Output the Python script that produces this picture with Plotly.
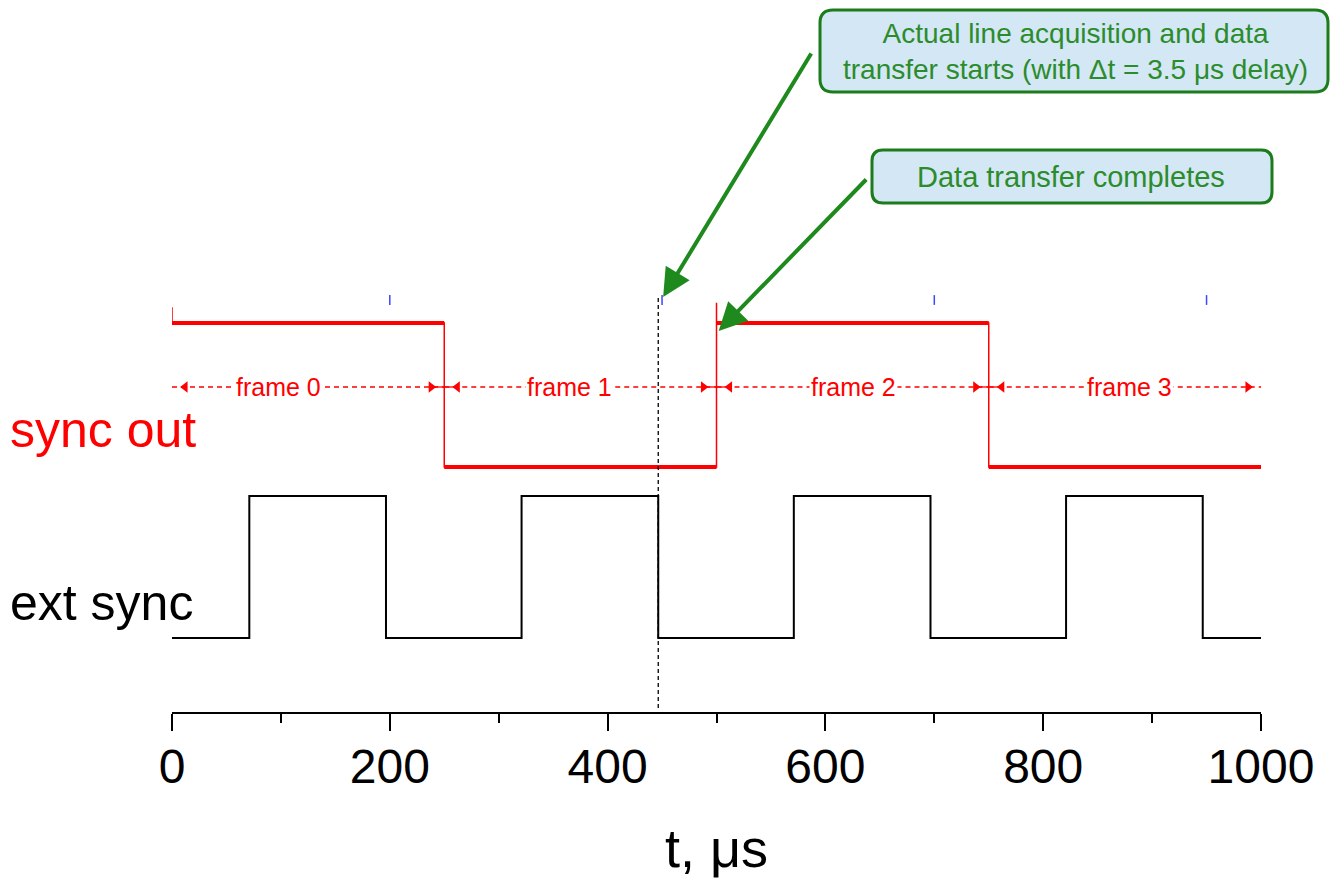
import plotly.graph_objects as go

# ---- signal data (time in microseconds, logic levels 0/1) ----
sync_out_t = [0, 0, 250, 250, 500, 500, 500, 750, 750, 1000]
sync_out_v = [1.11, 1.0, 1.0, 0.0, 0.0, 1.14, 1.0, 1.0, 0.0, 0.0]

ext_sync_t = [0, 71, 71, 196.5, 196.5, 321, 321, 446.5, 446.5,
              571, 571, 696.5, 696.5, 821, 821, 946.5, 946.5, 1000]
ext_sync_v = [0, 0, 1, 1, 0, 0, 1, 1, 0, 0, 1, 1, 0, 0, 1, 1, 0, 0]

acq_start_t = [200, 450, 700, 950]          # line acquisition start markers
trigger_t = 446.5                            # ext sync falling edge (dashed guide)
frame_edges = [0, 250, 500, 750, 1000]
frame_names = ["frame 0", "frame 1", "frame 2", "frame 3"]
frame_label_t = [98, 365, 626, 879]

tick_vals = [0, 200, 400, 600, 800, 1000]

# ---- layout geometry (pixels) ----
W, H = 1330, 879
ML, MR, MT, MB = 172, 69, 0, 167
PW, PH = W - ML - MR, H - MT - MB

SYNC_BASE, SYNC_SPAN = 245, 144
EXT_BASE, EXT_SPAN = 74, 142
FRAME_Y = 325
MARK_Y = 412

RED = "#ff0000"
GREEN_TXT = "#2c8c2c"
GREEN_LINE = "#1c7c1c"
FILL = "#d3e7f4"
FONT = "Liberation Sans, Arial, sans-serif"


def paper(px, py):
    return (px - ML) / PW, (H - MB - py) / PH


def rounded_box(x0, y0, x1, y1, r):
    a, top = paper(x0, y0)
    b, bot = paper(x1, y1)
    rx, ry = r / PW, r / PH
    return (f"M {a+rx},{top} L {b-rx},{top} Q {b},{top} {b},{top-ry} "
            f"L {b},{bot+ry} Q {b},{bot} {b-rx},{bot} L {a+rx},{bot} "
            f"Q {a},{bot} {a},{bot+ry} L {a},{top-ry} Q {a},{top} {a+rx},{top} Z")


fig = go.Figure()

# sync out: full waveform + thicker level segments (noisy plateaus)
sy = [SYNC_BASE + SYNC_SPAN * v for v in sync_out_v]
fig.add_trace(go.Scatter(x=sync_out_t, y=sy, mode="lines",
                         line=dict(color=RED, width=1.5), cliponaxis=False))
lvl_x, lvl_y = [], []
for i in range(len(sync_out_t) - 1):
    if sync_out_t[i] != sync_out_t[i + 1] and sync_out_v[i] == sync_out_v[i + 1]:
        lvl_x += [sync_out_t[i], sync_out_t[i + 1], None]
        lvl_y += [sy[i], sy[i + 1], None]
fig.add_trace(go.Scatter(x=lvl_x, y=lvl_y, mode="lines",
                         line=dict(color=RED, width=4), cliponaxis=False))

# ext sync
fig.add_trace(go.Scatter(x=ext_sync_t, y=[EXT_BASE + EXT_SPAN * v for v in ext_sync_v],
                         mode="lines", line=dict(color="black", width=2),
                         cliponaxis=False))

# frame spans: dashed lines with arrowheads, solid joins at boundaries
for i in range(len(frame_names)):
    a, b = frame_edges[i], frame_edges[i + 1]
    fig.add_trace(go.Scatter(x=[a, b], y=[FRAME_Y, FRAME_Y], mode="lines",
                             line=dict(color=RED, width=1.3, dash="5px,4px"),
                             cliponaxis=False))
    fig.add_trace(go.Scatter(x=[a + 12, b - 12], y=[FRAME_Y, FRAME_Y], mode="markers",
                             marker=dict(symbol=["triangle-left", "triangle-right"],
                                         size=10, color=RED), cliponaxis=False))
    fig.add_annotation(x=frame_label_t[i], y=FRAME_Y, text=frame_names[i],
                       showarrow=False, xanchor="center", yanchor="middle",
                       font=dict(family=FONT, size=25, color=RED),
                       bgcolor="white", borderpad=1)
for e in frame_edges[1:-1]:
    fig.add_trace(go.Scatter(x=[e - 12, e + 12], y=[FRAME_Y, FRAME_Y], mode="lines",
                             line=dict(color=RED, width=1.3)))

# acquisition start markers
fig.add_trace(go.Scatter(x=acq_start_t, y=[MARK_Y] * len(acq_start_t), mode="markers",
                         marker=dict(symbol="line-ns", size=7,
                                     line=dict(color="#3a46ff", width=1.5))))

# dashed guide at the trigger edge
fig.add_trace(go.Scatter(x=[trigger_t, trigger_t], y=[4, 414], mode="lines",
                         line=dict(color="black", width=1.3, dash="4px,3px")))

# channel labels
lx, ly = paper(8, 430)
fig.add_annotation(xref="paper", yref="paper", x=lx, y=ly, xanchor="left",
                   yanchor="middle", text="sync out", showarrow=False,
                   font=dict(family=FONT, size=50, color=RED))
lx, ly = paper(8, 603)
fig.add_annotation(xref="paper", yref="paper", x=lx, y=ly, xanchor="left",
                   yanchor="middle", text="ext sync", showarrow=False,
                   font=dict(family=FONT, size=50, color="black"))

# callout boxes
fig.add_shape(type="path", xref="paper", yref="paper",
              path=rounded_box(820, 10, 1328, 92, 13),
              fillcolor=FILL, line=dict(color=GREEN_LINE, width=3))
fig.add_shape(type="path", xref="paper", yref="paper",
              path=rounded_box(872, 150, 1272, 203, 11),
              fillcolor=FILL, line=dict(color=GREEN_LINE, width=3))
cx, cy = paper(1075, 51)
fig.add_annotation(xref="paper", yref="paper", x=cx, y=cy, showarrow=False,
                   xanchor="center", yanchor="middle",
                   text="Actual line acquisition and data<br>"
                        "transfer starts (with Δt = 3.5 μs delay)",
                   font=dict(family=FONT, size=28, color=GREEN_TXT))
cx, cy = paper(1071, 177)
fig.add_annotation(xref="paper", yref="paper", x=cx, y=cy, showarrow=False,
                   xanchor="center", yanchor="middle",
                   text="Data transfer completes",
                   font=dict(family=FONT, size=29, color=GREEN_TXT))

# callout arrows
fig.add_annotation(x=acq_start_t[1] + 1, y=MARK_Y + 3, text="", showarrow=True,
                   ax=149, ay=-245, arrowhead=2, arrowsize=1.4, arrowwidth=4,
                   arrowcolor="#1e8a1e", standoff=0)
fig.add_annotation(x=frame_edges[2] + 2, y=SYNC_BASE + SYNC_SPAN - 8, text="",
                   showarrow=True, ax=149, ay=-153, arrowhead=2, arrowsize=1.4,
                   arrowwidth=4, arrowcolor="#1e8a1e", standoff=0)

fig.update_layout(
    width=W, height=H, margin=dict(l=ML, r=MR, t=MT, b=MB),
    paper_bgcolor="white", plot_bgcolor="white", showlegend=False,
    xaxis=dict(range=[0, 1000], tickvals=tick_vals, ticktext=[str(v) for v in tick_vals],
               showline=True, linecolor="black", linewidth=2,
               ticks="outside", ticklen=17, tickwidth=2, tickcolor="black",
               ticklabelstandoff=-6,
               minor=dict(ticks="outside", ticklen=9, tickwidth=2, tickcolor="black",
                          dtick=100, tick0=0, showgrid=False),
               tickfont=dict(family=FONT, size=48, color="black"),
               showgrid=False, zeroline=False,
               title=dict(text="t, μs", font=dict(family=FONT, size=54, color="black"),
                          standoff=38)),
    yaxis=dict(range=[0, PH], visible=False),
)

fig.write_html("out.html")
